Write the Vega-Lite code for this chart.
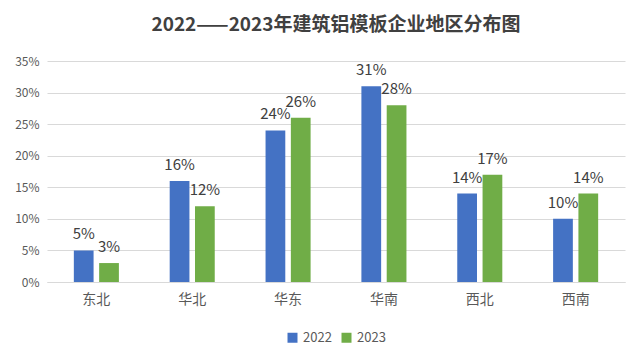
{
  "$schema": "https://vega.github.io/schema/vega-lite/v6.json",
  "width": 635,
  "height": 362,
  "autosize": {"type": "fit", "contains": "padding"},
  "padding": {"left": 14, "right": 10, "top": 16, "bottom": 17},
  "background": "white",
  "title": {
    "text": "2022——2023年建筑铝模板企业地区分布图",
    "font": "Noto Sans CJK SC",
    "fontSize": 19,
    "fontWeight": "bold",
    "color": "#404040",
    "anchor": "middle",
    "offset": 20
  },
  "data": {
    "values": [
      {"region": "东北", "year": "2022", "value": 0.05},
      {"region": "东北", "year": "2023", "value": 0.03},
      {"region": "华北", "year": "2022", "value": 0.16},
      {"region": "华北", "year": "2023", "value": 0.12},
      {"region": "华东", "year": "2022", "value": 0.24},
      {"region": "华东", "year": "2023", "value": 0.26},
      {"region": "华南", "year": "2022", "value": 0.31},
      {"region": "华南", "year": "2023", "value": 0.28},
      {"region": "西北", "year": "2022", "value": 0.14},
      {"region": "西北", "year": "2023", "value": 0.17},
      {"region": "西南", "year": "2022", "value": 0.10},
      {"region": "西南", "year": "2023", "value": 0.14}
    ]
  },
  "encoding": {
    "x": {
      "field": "region",
      "type": "nominal",
      "sort": null,
      "scale": {"paddingInner": 0.53, "paddingOuter": 0.28},
      "axis": {
        "title": null,
        "labelAngle": 0,
        "labelFont": "Noto Sans CJK SC",
        "labelFontSize": 14,
        "labelColor": "#595959",
        "labelPadding": 10,
        "domainColor": "#d9d9d9",
        "ticks": false
      }
    },
    "xOffset": {"field": "year", "type": "nominal", "scale": {"paddingInner": 0.22}},
    "y": {
      "field": "value",
      "type": "quantitative",
      "scale": {"domain": [0, 0.35]},
      "axis": {
        "title": null,
        "format": ".0%",
        "values": [0, 0.05, 0.1, 0.15, 0.2, 0.25, 0.3, 0.35],
        "labelFont": "Noto Sans CJK SC",
        "labelFontSize": 12,
        "labelColor": "#595959",
        "labelPadding": 8,
        "domain": false,
        "ticks": false,
        "gridColor": "#d9d9d9"
      }
    },
    "color": {
      "field": "year",
      "type": "nominal",
      "scale": {"domain": ["2022", "2023"], "range": ["#4472C4", "#70AD47"]},
      "legend": {
        "title": null,
        "orient": "bottom",
        "direction": "horizontal",
        "symbolType": "square",
        "symbolSize": 100,
        "symbolStrokeWidth": 0,
        "labelFont": "Noto Sans CJK SC",
        "labelFontSize": 13,
        "labelColor": "#595959",
        "offset": 25,
        "columnPadding": 8
      }
    }
  },
  "layer": [
    {"mark": {"type": "bar"}},
    {
      "mark": {
        "type": "text",
        "baseline": "bottom",
        "dy": -8,
        "font": "Noto Sans CJK SC",
        "fontSize": 15,
        "color": "#404040"
      },
      "encoding": {
        "text": {"field": "value", "type": "quantitative", "format": ".0%"},
        "color": {"value": "#404040"}
      }
    }
  ],
  "config": {
    "view": {"stroke": null},
    "legend": {"layout": {"bottom": {"anchor": "middle"}}}
  }
}
